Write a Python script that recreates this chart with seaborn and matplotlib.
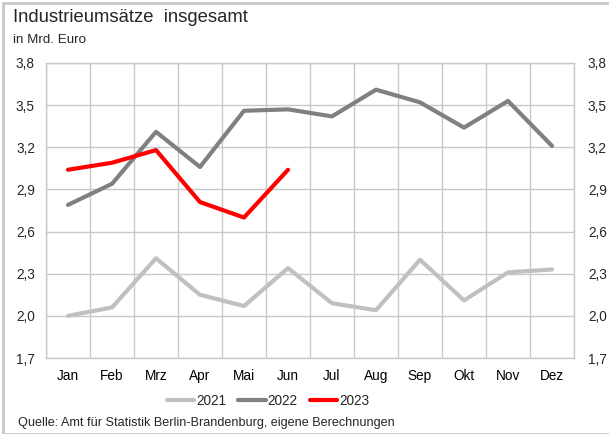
import matplotlib
matplotlib.use("Agg")
import matplotlib.pyplot as plt
import seaborn as sns
import pandas as pd
import numpy as np
from matplotlib.patches import Rectangle
from matplotlib.ticker import FixedLocator
from matplotlib.lines import Line2D

months = ["Jan", "Feb", "Mrz", "Apr", "Mai", "Jun", "Jul", "Aug", "Sep", "Okt", "Nov", "Dez"]
v2021 = [2.00, 2.06, 2.41, 2.15, 2.07, 2.34, 2.09, 2.04, 2.40, 2.11, 2.31, 2.33]
v2022 = [2.79, 2.94, 3.31, 3.06, 3.46, 3.47, 3.42, 3.61, 3.52, 3.34, 3.53, 3.21]
v2023 = [3.04, 3.09, 3.18, 2.81, 2.70, 3.04]
years = ["2021", "2022", "2023"]
yticks = [1.7, 2.0, 2.3, 2.6, 2.9, 3.2, 3.5, 3.8]

rows = []
for year, vals in zip(years, [v2021, v2022, v2023]):
    for i, v in enumerate(vals):
        rows.append({"Monat": i, "Wert": v, "Jahr": year})
df = pd.DataFrame(rows)

sns.set_theme(style="white")
plt.rcParams["font.family"] = ["Liberation Sans", "DejaVu Sans"]

fig = plt.figure(figsize=(6.09, 4.34), dpi=100)
ax = fig.add_axes([46 / 609, 1 - 358 / 434, 528 / 609, 295 / 434])

palette = {"2021": "#c0c0c0", "2022": "#808080", "2023": "#ff0000"}
sns.lineplot(data=df, x="Monat", y="Wert", hue="Jahr", palette=palette,
             linewidth=3.0, ax=ax, legend=False, sort=False)

ylabels = [f"{t:.1f}".replace(".", ",") for t in yticks]
ax.set_xlim(-0.5, 11.5)
ax.set_ylim(1.7, 3.8)
ax.set_xticks(range(12))
ax.set_xticklabels(months, fontsize=9.8, color="#000000")
ax.xaxis.set_minor_locator(FixedLocator(np.arange(-0.5, 12, 1)))
ax.set_yticks(yticks)
ax.set_yticklabels(ylabels, fontsize=9.8)
ax.tick_params(axis="both", which="both", length=0, pad=8)
ax.set_xlabel("")
ax.set_ylabel("")
ax.grid(False)
ax.grid(True, which="minor", axis="x", color="#c8c8c8", linewidth=1.0)
ax.grid(True, which="major", axis="y", color="#c8c8c8", linewidth=1.0)
ax.set_axisbelow(True)
for sp in ax.spines.values():
    sp.set_color("#c8c8c8")
    sp.set_linewidth(1.0)

ax2 = ax.twinx()
ax2.set_ylim(1.7, 3.8)
ax2.set_yticks(yticks)
ax2.set_yticklabels(ylabels, fontsize=9.8)
ax2.tick_params(axis="y", length=0, pad=10)
ax2.grid(False)
for sp in ax2.spines.values():
    sp.set_visible(False)

# legend below the plot
handles = [Line2D([0], [0], color=palette[y], linewidth=3.0) for y in years]
fig.legend(handles, years, loc="center", bbox_to_anchor=(268 / 609, 1 - 401 / 434),
           ncol=3, frameon=False, fontsize=9.8, handlelength=2.0,
           handletextpad=0.15, columnspacing=0.9)

fig.text(13 / 609, 1 - 18 / 434, "Industrieumsätze  insgesamt", fontsize=13.3,
         va="center", ha="left")
fig.text(13 / 609, 1 - 40 / 434, "in Mrd. Euro", fontsize=9.6, va="center", ha="left")
fig.text(18 / 609, 1 - 423 / 434, "Quelle: Amt für Statistik Berlin-Brandenburg, eigene Berechnungen",
         fontsize=9.1, va="center", ha="left")

fig.patches.append(Rectangle((3 / 609, 0), 1.0, 1 - 3 / 434, transform=fig.transFigure,
                             fill=False, edgecolor="#c8c8c8", linewidth=2.0))

fig.savefig("out.png", dpi=100)
